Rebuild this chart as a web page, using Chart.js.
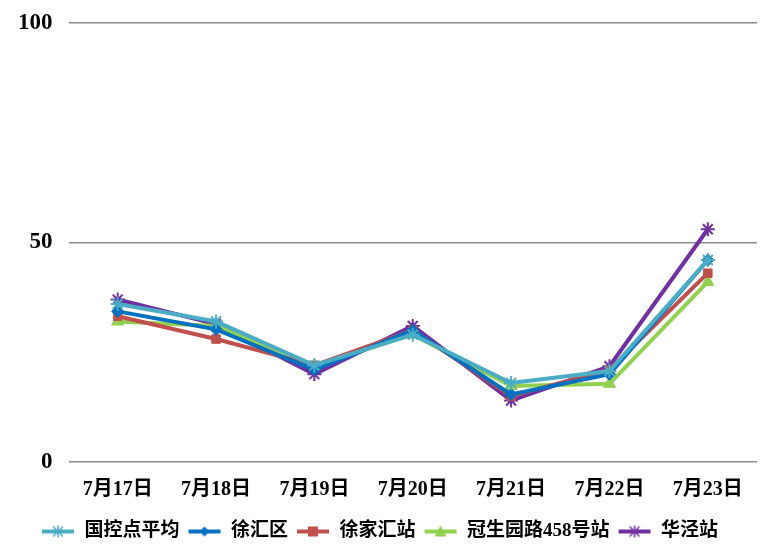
<!DOCTYPE html>
<html>
<head>
<meta charset="utf-8">
<script src="https://cdn.jsdelivr.net/npm/chart.js@4/dist/chart.umd.min.js"></script>
<style>
  html, body { margin: 0; padding: 0; background: #fff; }
  #wrap { width: 774px; height: 560px; }
</style>
</head>
<body>
<div id="wrap"><canvas id="grafico"></canvas></div>
<script>
// datos
const dias = ['7月17日', '7月18日', '7月19日', '7月20日', '7月21日', '7月22日', '7月23日'];
const guokong = [36, 32, 22, 29, 18, 20.7, 46];
const xuhui = [34.3, 30.2, 21, 30, 15.4, 20, 46];
const xujiahui = [33.2, 28, 22, 30, 15, 21, 43];
const guansheng = [32, 31, 22, 29, 17.3, 17.8, 41];
const huajing = [37, 31.4, 20, 31, 14, 21.8, 53];
const ticksY = [0, 50, 100];

const fuente = "'Liberation Serif', 'Noto Sans CJK SC', serif";

// icono de leyenda: linea + marcador
function iconoLeyenda(color, estilo) {
  const c = document.createElement('canvas');
  c.width = 34; c.height = 14;
  const g = c.getContext('2d');
  g.strokeStyle = color; g.fillStyle = color; g.lineWidth = 4;
  g.beginPath(); g.moveTo(1, 7); g.lineTo(33, 7); g.stroke();
  g.lineWidth = 1.5;
  const cx = 17, cy = 7, r = 5;
  if (estilo === 'rect') {
    g.fillRect(cx - r, cy - r, 2 * r, 2 * r);
  } else if (estilo === 'rectRot') {
    g.beginPath(); g.moveTo(cx, cy - r); g.lineTo(cx + r, cy); g.lineTo(cx, cy + r); g.lineTo(cx - r, cy); g.closePath(); g.fill();
  } else if (estilo === 'triangle') {
    g.beginPath(); g.moveTo(cx, cy - r - 1); g.lineTo(cx + r + 1, cy + r); g.lineTo(cx - r - 1, cy + r); g.closePath(); g.fill();
  } else {
    g.beginPath();
    g.moveTo(cx - r, cy - r); g.lineTo(cx + r, cy + r);
    g.moveTo(cx + r, cy - r); g.lineTo(cx - r, cy + r);
    g.moveTo(cx, cy - r - 1); g.lineTo(cx, cy + r + 1);
    g.stroke();
  }
  return c;
}

function serie(label, data, color, estilo, radio) {
  return {
    label: label,
    data: data,
    borderColor: color,
    backgroundColor: color,
    borderWidth: 4,
    tension: 0,
    fill: false,
    pointStyle: estilo,
    pointRadius: radio,
    pointBorderWidth: estilo === 'star' ? 2 : 1,
    icono: iconoLeyenda(color, estilo)
  };
}

const ctx = document.getElementById('grafico').getContext('2d');
new Chart(ctx, {
  type: 'line',
  data: {
    labels: dias,
    datasets: [
      serie('国控点平均', guokong, '#4BACC6', 'star', 7),
      serie('徐汇区', xuhui, '#0070C0', 'rectRot', 6),
      serie('徐家汇站', xujiahui, '#C0504D', 'rect', 6),
      serie('冠生园路458号站', guansheng, '#92D050', 'triangle', 7),
      serie('华泾站', huajing, '#7030A0', 'star', 7)
    ]
  },
  options: {
    responsive: true,
    maintainAspectRatio: false,
    animation: false,
    layout: { padding: { left: 2, right: 17, top: 0, bottom: 9 } },
    plugins: {
      legend: {
        position: 'bottom',
        labels: {
          usePointStyle: true,
          pointStyleWidth: 34,
          boxHeight: 14,
          padding: 8,
          color: '#000',
          font: { family: fuente, size: 19, weight: 'bold' },
          generateLabels: function (chart) {
            return chart.data.datasets.map(function (ds, i) {
              return {
                text: ds.label,
                pointStyle: ds.icono,
                fillStyle: ds.borderColor,
                strokeStyle: ds.borderColor,
                lineWidth: 0,
                hidden: !chart.isDatasetVisible(i),
                datasetIndex: i
              };
            });
          }
        }
      },
      tooltip: { enabled: false }
    },
    scales: {
      x: {
        offset: true,
        grid: { display: false, offset: true, drawTicks: false },
        border: { display: false },
        afterFit: function (axis) { axis.height = 52; },
        ticks: {
          color: '#000',
          padding: 16,
          maxRotation: 0,
          font: { family: fuente, size: 20, weight: 'bold' }
        }
      },
      y: {
        min: 0,
        max: 100,
        border: { display: false },
        grid: { color: '#8c8c8c', lineWidth: 1.5, drawTicks: false },
        afterBuildTicks: function (axis) {
          axis.ticks = ticksY.map(function (v) { return { value: v }; });
        },
        ticks: {
          color: '#000',
          padding: 16,
          font: { family: fuente, size: 23, weight: 'bold', lineHeight: 0.6 }
        }
      }
    }
  }
});
</script>
</body>
</html>
